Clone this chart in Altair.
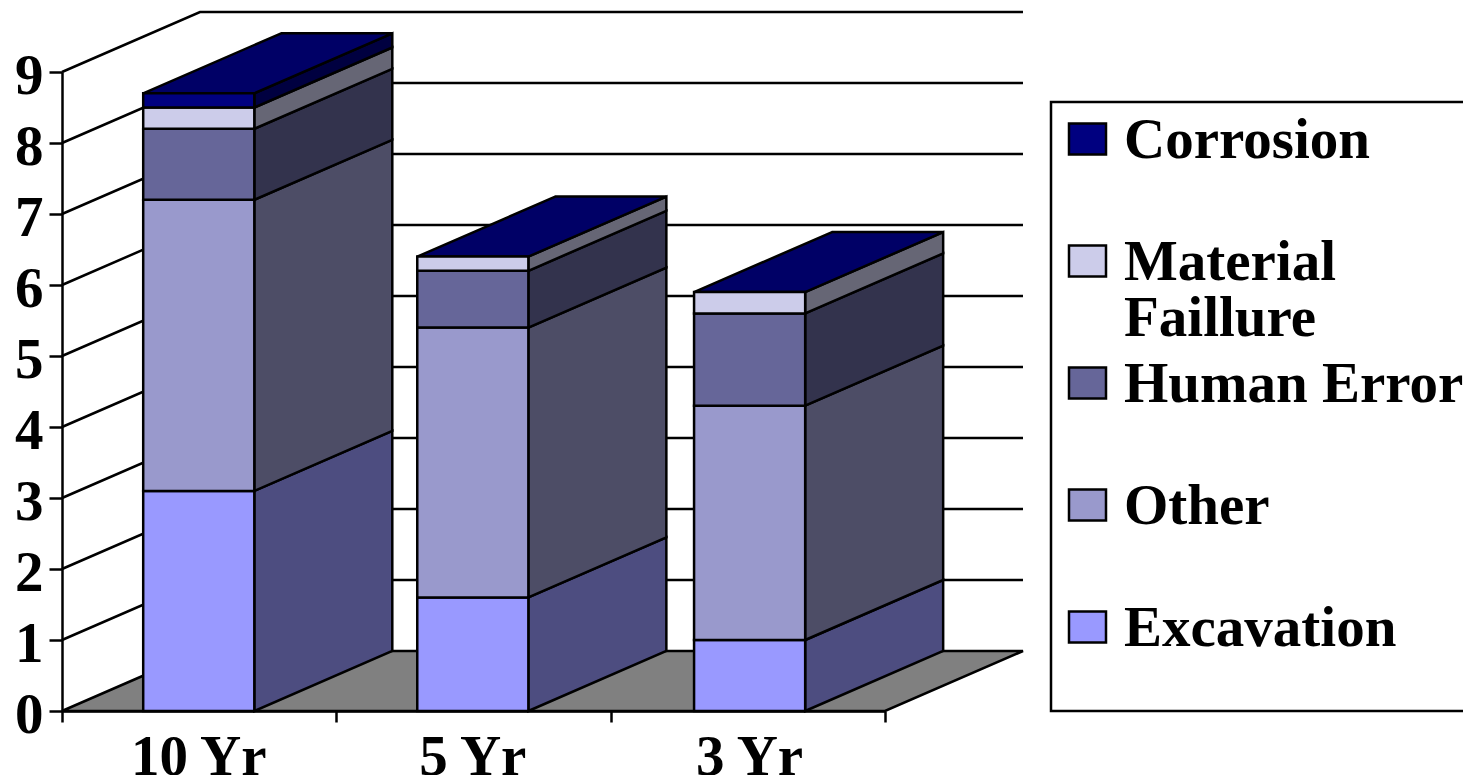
import altair as alt
import pandas as pd

categories = ["10 Yr", "5 Yr", "3 Yr"]
series = ["Excavation", "Other", "Human Error", "Material Failure", "Corrosion"]
excavation = [3.1, 1.6, 1.0]
other = [4.1, 3.8, 3.3]
human_error = [1.0, 0.8, 1.3]
material_failure = [0.3, 0.2, 0.3]
corrosion = [0.2, 0.0, 0.0]
front_colors = ["#9999ff", "#9999cc", "#666699", "#ccccea", "#000080"]
side_colors = ["#4d4d80", "#4d4d66", "#33334d", "#666675", "#000040"]
top_color = "#000066"
floor_color = "#808080"
legend_labels = ["Corrosion", "Material\nFaillure", "Human Error", "Other", "Excavation"]
legend_colors = ["#000080", "#ccccea", "#666699", "#9999cc", "#9999ff"]

values = [excavation, other, human_error, material_failure, corrosion]

# oblique projection, in axis units
DX, DY = 0.503, 0.845
BAR_START = [0.296, 0.295, 0.304]
BAR_WIDTH = 0.405
N_CAT = len(categories)
FONT = "Liberation Serif"
FS = 57
SW = 2.5

front, side, top, labels = [], [], [], []
for c, cat in enumerate(categories):
    left = c + BAR_START[c]
    right = left + BAR_WIDTH
    base = 0.0
    for s, name in enumerate(series):
        v = values[s][c]
        if v > 0:
            end = base + v
            face = f"{cat}-{name}"
            front.append(dict(x=left, x2=right, y=base, y2=end, fill=front_colors[s]))
            side.append(dict(f=face, x=right, y=base, y2=end, fill=side_colors[s]))
            side.append(dict(f=face, x=right + DX, y=base + DY, y2=end + DY, fill=side_colors[s]))
            base = end
    top.append(dict(f=cat, y=base, x=left, x2=right))
    top.append(dict(f=cat, y=base + DY, x=left + DX, x2=right + DX))
    labels.append(dict(x=(left + right) / 2, label=cat))

floor = [dict(y=0, x=0, x2=N_CAT), dict(y=DY, x=DX, x2=N_CAT + DX)]
grid = []
for v in range(1, 10):
    grid.append(dict(v=v, o=0, x=0, y=v))
    grid.append(dict(v=v, o=1, x=DX, y=v + DY))
    grid.append(dict(v=v, o=2, x=N_CAT + DX, y=v + DY))

xs = alt.Scale(domain=[0, N_CAT], nice=False, zero=False)
ys = alt.Scale(domain=[0, 9], nice=False, zero=False)
xaxis = alt.Axis(values=list(range(N_CAT + 1)), labels=False, title=None, grid=False,
                 tickSize=11, tickWidth=SW, tickColor="black", domainColor="black",
                 domainWidth=SW, zindex=1)
yaxis = alt.Axis(values=list(range(10)), format="d", title=None, grid=False, tickSize=13,
                 tickWidth=SW, tickColor="black", domainColor="black", domainWidth=SW,
                 labelFont=FONT, labelFontSize=FS, labelFontWeight="bold", labelColor="black",
                 labelPadding=6, labelOffset=4, labelFlush=False, labelOverlap=False, zindex=1)
X = alt.X("x:Q", scale=xs, axis=xaxis)
Y = alt.Y("y:Q", scale=ys, axis=yaxis)

floor_l = alt.Chart(pd.DataFrame(floor)).mark_area(
    orient="horizontal", fill=floor_color, stroke="black", strokeWidth=SW
).encode(x=X, x2="x2:Q", y=Y)

grid_l = alt.Chart(pd.DataFrame(grid)).mark_line(color="black", strokeWidth=SW).encode(
    x=X, y=Y, detail="v:N", order="o:Q")

front_l = alt.Chart(pd.DataFrame(front)).mark_rect(stroke="black", strokeWidth=SW).encode(
    x=X, x2="x2:Q", y=Y, y2="y2:Q", fill=alt.Fill("fill:N", scale=None))

side_l = alt.Chart(pd.DataFrame(side)).mark_area(stroke="black", strokeWidth=SW).encode(
    x=X, y=Y, y2="y2:Q", detail="f:N", fill=alt.Fill("fill:N", scale=None))

top_l = alt.Chart(pd.DataFrame(top)).mark_area(
    orient="horizontal", fill=top_color, stroke="black", strokeWidth=SW
).encode(x=X, x2="x2:Q", y=Y, detail="f:N")

cat_l = alt.Chart(pd.DataFrame(labels)).mark_text(
    font=FONT, fontSize=FS, fontWeight="bold", color="black", align="center", baseline="alphabetic"
).encode(x=X, y=alt.value(703), text="label:N")

# legend, placed in pixels relative to the plot origin
LX, ROW, FIRST = 1062, 122, 86
legend_rows = []
for i, (lab, col) in enumerate(zip(legend_labels, legend_colors)):
    cy = 67 + i * ROW
    legend_rows.append(dict(sx=1007, sx2=1044, sy=cy - 15.5, sy2=cy + 15.5, tx=LX, ty=FIRST + i * ROW,
                            label=lab, fill=col))
legend_df = pd.DataFrame(legend_rows)

box = alt.Chart(pd.DataFrame({"k": [0]})).mark_rect(fill="white", stroke="black", strokeWidth=SW).encode(
    x=alt.value(989), x2=alt.value(1450), y=alt.value(30), y2=alt.value(639))
swatch = alt.Chart(legend_df).mark_rect(stroke="black", strokeWidth=SW).encode(
    x=alt.X("sx:Q", scale=None), x2="sx2:Q", y=alt.Y("sy:Q", scale=None), y2="sy2:Q",
    fill=alt.Fill("fill:N", scale=None))
legend_text = alt.Chart(legend_df).mark_text(
    font=FONT, fontSize=FS, fontWeight="bold", color="black", align="left", baseline="alphabetic",
    lineBreak="\n", lineHeight=56
).encode(x=alt.X("tx:Q", scale=None), y=alt.Y("ty:Q", scale=None), text="label:N")

chart = alt.layer(floor_l, grid_l, side_l, top_l, front_l, cat_l, box, swatch, legend_text).properties(
    width=823, height=639,
    autosize=alt.AutoSizeParams(type="none"),
    padding={"left": 54, "top": 64, "right": 578, "bottom": 64},
    background="white",
).configure_view(stroke=None)

chart.save("out.html", embed_options={"renderer": "svg", "actions": False})
